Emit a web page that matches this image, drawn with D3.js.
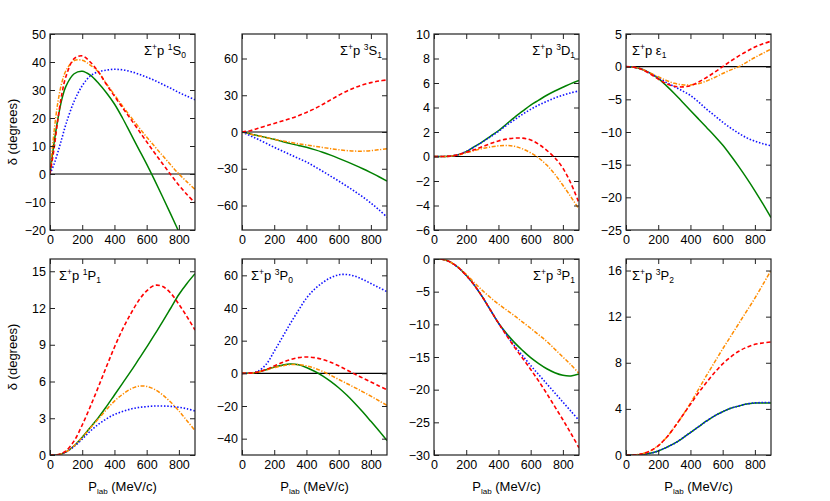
<!DOCTYPE html>
<html><head><meta charset="utf-8">
<script src="https://cdn.jsdelivr.net/npm/d3@7"></script>
<style>
body{margin:0;background:#fff}
text{font-family:"Liberation Sans",Arial,Helvetica,sans-serif;fill:#000}
</style>
</head><body>
<svg id="chart" width="830" height="501"></svg>
<script>
// ---------------- DATA ----------------
const pLab = [0,25,50,75,100,150,200,250,300,350,400,450,500,550,600,650,700,750,800,850,900];
const xTicks = [0,200,400,600,800];

// 1S0
const s1S0Solid   = [0,11,20,27,31.5,35.8,36.7,35.3,32.5,29,25,20,14.5,9,3.5,-2.3,-8.3,-14.4,-20.7,-27,-33.5];
const s1S0Dotted  = [0,3.5,8,13,18,26,31.5,35,36.5,37.1,37.4,37.2,36.6,35.7,34.6,33.4,32,30.6,29.1,27.8,26.5];
const s1S0Dashed  = [0,9,20,29,35,41.2,42.2,40,36.5,32,27.8,23.7,19.7,15.6,11.5,7.5,3.6,-0.3,-4,-7.3,-10.3];
const s1S0DashDot = [0,15,26,33,37,40.5,40.6,38.9,36.5,32.3,28.3,24.3,20.5,16.8,13.2,9.8,6.5,3.2,0,-2.8,-5.5];
const y1S0Ticks = [-20,-10,0,10,20,30,40,50];

// 3S1
const s3S1Solid   = [0,-0.7,-1.5,-2.3,-3,-4.5,-6,-7.8,-9.5,-11,-12.5,-14.4,-16.5,-18.9,-21.5,-24.2,-27,-30,-33.2,-36.5,-40];
const s3S1Dotted  = [0,-1.5,-3,-4.5,-6,-9.2,-12.5,-15.5,-18.5,-21.5,-24.5,-28.2,-32,-36,-40,-44.2,-48.5,-53,-58,-63.5,-69.5];
const s3S1Dashed  = [0,0.5,1,2,3,5,7,9,11,13.3,16,19,22.5,26.2,30,33.3,36.2,38.5,40.3,41.6,42.5];
const s3S1DashDot = [0,-0.7,-1.5,-2.3,-3,-4.5,-6,-7.3,-8.5,-9.6,-10.6,-11.6,-12.6,-13.6,-14.5,-15.2,-15.6,-15.6,-15.2,-14.5,-13.6];
const y3S1Ticks = [-60,-30,0,30,60];

// 3D1
const s3D1Solid   = [0,0,0,0.01,0.03,0.15,0.4,0.8,1.2,1.65,2.1,2.65,3.2,3.7,4.2,4.6,5.0,5.35,5.65,5.95,6.2];
const s3D1Dotted  = [0,0,0,0.01,0.03,0.15,0.4,0.78,1.18,1.6,2.05,2.55,3.0,3.45,3.85,4.2,4.5,4.78,5.0,5.2,5.35];
const s3D1Dashed  = [0,0,0,0.01,0.03,0.15,0.35,0.55,0.8,1.05,1.27,1.42,1.5,1.5,1.35,1.0,0.5,-0.1,-0.95,-2.2,-3.8];
const s3D1DashDot = [0,0,0,0.01,0.03,0.12,0.3,0.48,0.65,0.78,0.87,0.9,0.83,0.62,0.3,-0.12,-0.7,-1.45,-2.35,-3.3,-4.3];
const y3D1Ticks = [-6,-4,-2,0,2,4,6,8,10];

// epsilon1
const sE1Solid   = [0,-0.02,-0.1,-0.22,-0.4,-1.0,-1.8,-2.9,-4.1,-5.4,-6.7,-8.0,-9.3,-10.6,-12.0,-13.6,-15.3,-17.1,-19.0,-21.0,-23.1];
const sE1Dotted  = [0,-0.02,-0.1,-0.22,-0.4,-1.0,-1.7,-2.4,-3.05,-3.7,-4.4,-5.4,-6.5,-7.5,-8.5,-9.4,-10.2,-10.9,-11.4,-11.8,-12.1];
const sE1Dashed  = [0,-0.02,-0.1,-0.22,-0.45,-1.1,-1.9,-2.6,-3.0,-3.1,-2.9,-2.35,-1.65,-0.85,0,0.85,1.65,2.35,3.0,3.5,3.9];
const sE1DashDot = [0,-0.02,-0.1,-0.22,-0.4,-0.95,-1.55,-2.1,-2.55,-2.78,-2.8,-2.6,-2.2,-1.65,-1.05,-0.5,0,0.7,1.4,2.05,2.7];
const yE1Ticks = [-25,-20,-15,-10,-5,0,5];

// 1P1
const s1P1Solid   = [0,0,0.02,0.1,0.25,0.75,1.45,2.25,3.05,3.95,4.9,5.85,6.8,7.8,8.8,9.85,10.9,12.0,13.1,14.0,14.8];
const s1P1Dotted  = [0,0,0.02,0.1,0.25,0.7,1.3,1.95,2.5,2.95,3.3,3.55,3.75,3.88,3.95,4.0,4.0,3.97,3.9,3.77,3.6];
const s1P1Dashed  = [0,0,0.03,0.15,0.35,1.15,2.45,3.95,5.55,7.2,8.8,10.25,11.5,12.6,13.4,13.85,13.75,13.2,12.3,11.3,10.2];
const s1P1DashDot = [0,0,0.02,0.1,0.25,0.75,1.45,2.2,2.95,3.7,4.4,4.95,5.38,5.62,5.6,5.35,4.9,4.3,3.6,2.8,2.0];
const y1P1Ticks = [0,3,6,9,12,15];

// 3P0
const s3P0Solid   = [0,0.05,0.15,0.4,0.8,2.2,3.8,5.0,5.7,5.3,3.6,1.3,-1.5,-4.9,-8.8,-13.3,-18.3,-23.7,-29.4,-35.2,-41.2];
const s3P0Dotted  = [0,0.05,0.2,0.6,1.3,5.5,13.5,22,30.5,38.5,46,51.5,55.5,58.5,60.3,60.5,59.5,57.5,55,52.5,50];
const s3P0Dashed  = [0,0.05,0.15,0.4,0.8,2.4,4.5,6.6,8.4,9.6,10.0,9.6,8.5,6.8,4.6,2.1,-0.5,-2.9,-5.3,-7.7,-10.1];
const s3P0DashDot = [0,0.05,0.15,0.4,0.8,2.1,3.5,4.6,5.3,5.4,4.6,3.2,1.2,-1.2,-3.7,-6.2,-8.7,-11.3,-14.0,-16.8,-19.6];
const y3P0Ticks = [-40,-20,0,20,40,60];

// 3P1
const s3P1Solid   = [0,0,-0.05,-0.2,-0.45,-1.3,-2.5,-4.0,-5.8,-7.8,-9.8,-11.4,-12.8,-14.0,-15.1,-16.0,-16.8,-17.4,-17.8,-17.9,-17.6];
const s3P1Dotted  = [0,0,-0.05,-0.2,-0.45,-1.3,-2.5,-4.0,-5.8,-7.8,-9.8,-11.6,-13.3,-14.8,-16.3,-17.7,-19.1,-20.5,-21.9,-23.3,-24.7];
const s3P1Dashed  = [0,0,-0.05,-0.2,-0.45,-1.3,-2.5,-4.0,-5.8,-7.8,-9.8,-11.7,-13.5,-15.2,-16.9,-18.7,-20.6,-22.6,-24.6,-26.7,-28.9];
const s3P1DashDot = [0,0,-0.05,-0.2,-0.45,-1.25,-2.35,-3.6,-4.8,-5.9,-6.9,-7.8,-8.7,-9.65,-10.6,-11.6,-12.6,-13.8,-15.0,-16.2,-17.5];
const y3P1Ticks = [-30,-25,-20,-15,-10,-5,0];

// 3P2
const s3P2Solid   = [0,0,0,0.02,0.05,0.15,0.35,0.65,1.0,1.45,1.95,2.45,2.95,3.4,3.75,4.05,4.25,4.42,4.5,4.52,4.5];
const s3P2Dotted  = [0,0,0,0.02,0.05,0.15,0.35,0.65,1.0,1.45,1.95,2.45,2.95,3.4,3.75,4.05,4.25,4.43,4.52,4.55,4.55];
const s3P2Dashed  = [0,0,0.01,0.04,0.1,0.35,0.8,1.5,2.4,3.4,4.4,5.4,6.3,7.15,7.9,8.5,9.0,9.35,9.6,9.72,9.8];
const s3P2DashDot = [0,0,0.01,0.04,0.1,0.35,0.8,1.5,2.4,3.4,4.5,5.7,6.9,8.05,9.2,10.3,11.4,12.5,13.6,14.8,16.0];
const y3P2Ticks = [0,4,8,12,16];

// titles: [text, kind]  kind: n normal, sup, sub
const titles = [
  [["Σ","n"],["+","sup"],["p ","n"],["1","sup"],["S","n"],["0","sub"]],
  [["Σ","n"],["+","sup"],["p ","n"],["3","sup"],["S","n"],["1","sub"]],
  [["Σ","n"],["+","sup"],["p ","n"],["3","sup"],["D","n"],["1","sub"]],
  [["Σ","n"],["+","sup"],["p ε","n"],["1","sub"]],
  [["Σ","n"],["+","sup"],["p ","n"],["1","sup"],["P","n"],["1","sub"]],
  [["Σ","n"],["+","sup"],["p ","n"],["3","sup"],["P","n"],["0","sub"]],
  [["Σ","n"],["+","sup"],["p ","n"],["3","sup"],["P","n"],["1","sub"]],
  [["Σ","n"],["+","sup"],["p ","n"],["3","sup"],["P","n"],["2","sub"]]
];

const panelData = [
  {title:titles[0], yDomain:[-20,50], yTicks:y1S0Ticks, s:[s1S0Solid,s1S0Dotted,s1S0DashDot,s1S0Dashed], align:"end", tdx:9},
  {title:titles[1], yDomain:[-80,80], yTicks:y3S1Ticks, s:[s3S1Solid,s3S1Dotted,s3S1DashDot,s3S1Dashed], align:"end", tdx:5},
  {title:titles[2], yDomain:[-6,10],  yTicks:y3D1Ticks, s:[s3D1Solid,s3D1Dotted,s3D1DashDot,s3D1Dashed], align:"end", tdx:4},
  {title:titles[3], yDomain:[-25,5],  yTicks:yE1Ticks,  s:[sE1Solid,sE1Dotted,sE1DashDot,sE1Dashed], align:"start", tdx:6},
  {title:titles[4], yDomain:[0,16],   yTicks:y1P1Ticks, s:[s1P1Solid,s1P1Dotted,s1P1DashDot,s1P1Dashed], align:"start", tdx:9},
  {title:titles[5], yDomain:[-50,70], yTicks:y3P0Ticks, s:[s3P0Solid,s3P0Dotted,s3P0DashDot,s3P0Dashed], align:"start", tdx:9},
  {title:titles[6], yDomain:[-30,0],  yTicks:y3P1Ticks, s:[s3P1Solid,s3P1Dotted,s3P1DashDot,s3P1Dashed], align:"end", tdx:4},
  {title:titles[7], yDomain:[0,17],   yTicks:y3P2Ticks, s:[s3P2Solid,s3P2Dotted,s3P2DashDot,s3P2Dashed], align:"start", tdx:6}
];

// ---------------- STYLE ----------------
const styles = [
  {color:"#008000", dash:null,        w:1.5},   // solid
  {color:"#1010ff", dash:"1.5,1.8",   w:1.6},   // dotted
  {color:"#ff8c00", dash:"4,1.6,1.2,1.6", w:1.5}, // dash-dot
  {color:"#ff0000", dash:"4,2.5",     w:1.6}    // dashed
];
const drawOrder = [0,1,2,3];

const svg = d3.select("#chart");
const PW = 145, PH = 196;
const lefts = [50,242,434,626];
const tops = [34,259];
const FS = 12.5;

panelData.forEach((p,i)=>{
  const col = i%4, row = Math.floor(i/4);
  const x0 = lefts[col], y0 = tops[row];
  const x = d3.scaleLinear().domain([0,900]).range([x0, x0+PW]);
  const y = d3.scaleLinear().domain(p.yDomain).range([y0+PH, y0]);
  const g = svg.append("g");

  const cid = "clip"+i;
  svg.append("clipPath").attr("id",cid).append("rect")
    .attr("x",x0).attr("y",y0).attr("width",PW).attr("height",PH);

  // zero line
  if (p.yDomain[0] < 0 && p.yDomain[1] > 0) {
    g.append("line").attr("x1",x0).attr("x2",x0+PW)
      .attr("y1",y(0)).attr("y2",y(0)).attr("stroke","#000").attr("stroke-width",1.1);
  }

  // curves
  const line = d3.line().x((d,k)=>x(pLab[k])).y(d=>y(d)).curve(d3.curveCatmullRom.alpha(0.5));
  const cg = g.append("g").attr("clip-path",`url(#${cid})`);
  drawOrder.forEach(si=>{
    const st = styles[si];
    cg.append("path").datum(p.s[si]).attr("d",line)
      .attr("fill","none").attr("stroke",st.color).attr("stroke-width",st.w)
      .attr("stroke-dasharray",st.dash);
  });

  // axes with inward ticks
  const yl = d3.axisLeft(y).tickValues(p.yTicks).tickSize(-5).tickPadding(4);
  const yr = d3.axisRight(y).tickValues(p.yTicks).tickSize(-5).tickFormat("");
  const xb = d3.axisBottom(x).tickValues(xTicks).tickSize(-5).tickPadding(5);
  const xt = d3.axisTop(x).tickValues(xTicks).tickSize(-5).tickFormat("");
  const axes = [
    g.append("g").attr("transform",`translate(${x0},0)`).call(yl),
    g.append("g").attr("transform",`translate(${x0+PW},0)`).call(yr),
    g.append("g").attr("transform",`translate(0,${y0+PH})`).call(xb),
    g.append("g").attr("transform",`translate(0,${y0})`).call(xt)
  ];
  axes.forEach(a=>{
    a.select(".domain").remove();
    a.selectAll("line").attr("stroke","#222").attr("stroke-width",1);
    a.selectAll("text").attr("font-size",FS).attr("font-family","Liberation Sans, Arial, sans-serif").attr("fill","#000");
  });

  // frame
  g.append("rect").attr("x",x0).attr("y",y0).attr("width",PW).attr("height",PH)
    .attr("fill","none").attr("stroke","#222").attr("stroke-width",1.2);

  // title
  const tx = p.align==="end" ? x0+PW-p.tdx : x0+p.tdx;
  const t = g.append("text").attr("x",tx).attr("y",y0+20.5)
    .attr("text-anchor",p.align).attr("font-size",13);
  let cur = 0;
  p.title.forEach(([s,k])=>{
    const target = k==="sup" ? -5 : (k==="sub" ? 3 : 0);
    t.append("tspan").text(s).attr("dy",target-cur)
      .attr("font-size", k==="n" ? 13 : 8.5);
    cur = target;
  });

  // x label on bottom row
  if (row===1) {
    const xl = g.append("text").attr("x",x0+PW/2).attr("y",491)
      .attr("text-anchor","middle").attr("font-size",13);
    xl.append("tspan").text("P");
    xl.append("tspan").text("lab").attr("font-size",8).attr("dy",2.5);
    xl.append("tspan").text(" (MeV/c)").attr("dy",-2.5);
  }
  // y label on first column
  if (col===0) {
    g.append("text").attr("transform",`translate(17,${y0+PH/2}) rotate(-90)`)
      .attr("text-anchor","middle").attr("font-size",13).text("δ (degrees)");
  }
});
</script>
</body></html>
